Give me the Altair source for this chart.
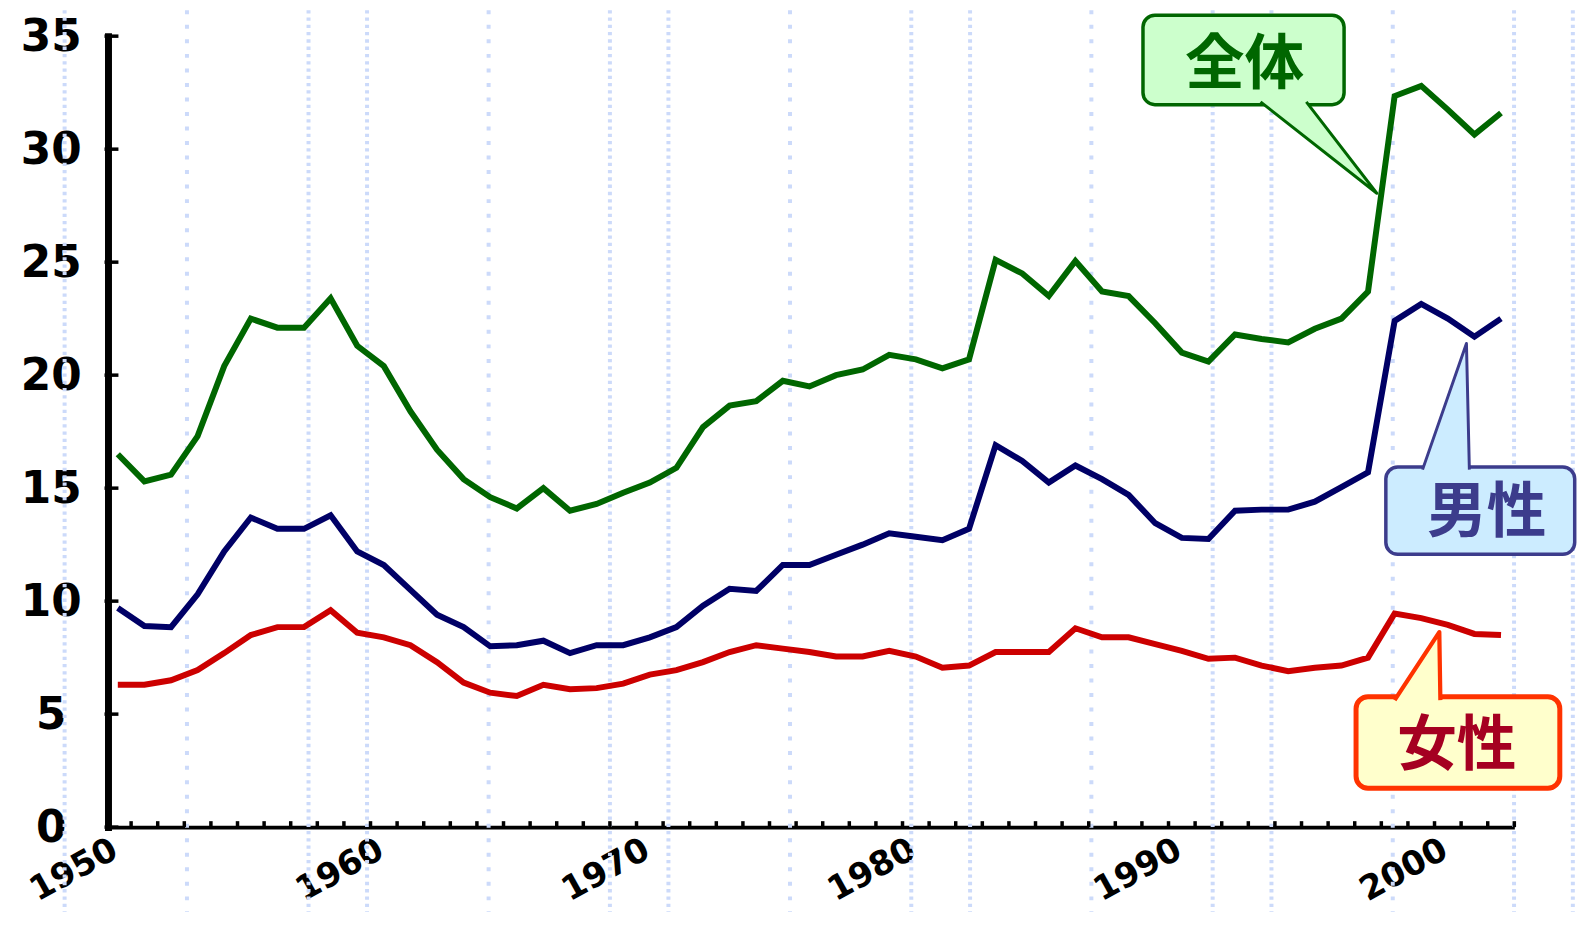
import altair as alt
import pandas as pd

# ---------------- data ----------------
years = list(range(1950, 2003))
total = [16.5, 15.3, 15.6, 17.3, 20.4, 22.5, 22.1, 22.1, 23.4, 21.3,
         20.4, 18.4, 16.7, 15.4, 14.6, 14.1, 15.0, 14.0, 14.3, 14.8,
         15.25, 15.9, 17.7, 18.65, 18.85, 19.75, 19.5, 20.0, 20.25, 20.9,
         20.7, 20.3, 20.7, 25.1, 24.5, 23.5, 25.05, 23.7, 23.5, 22.3,
         21.0, 20.6, 21.8, 21.6, 21.45, 22.05, 22.5, 23.7, 32.35, 32.8,
         31.75, 30.65, 31.6]
male = [9.7, 8.9, 8.85, 10.3, 12.2, 13.7, 13.2, 13.2, 13.8, 12.2,
        11.6, 10.5, 9.4, 8.85, 8.0, 8.05, 8.25, 7.7, 8.05, 8.05,
        8.4, 8.85, 9.8, 10.55, 10.45, 11.6, 11.6, 12.05, 12.5, 13.0,
        12.85, 12.7, 13.2, 16.9, 16.2, 15.25, 16.0, 15.4, 14.7, 13.45,
        12.8, 12.75, 14.0, 14.05, 14.05, 14.4, 15.05, 15.7, 22.4, 23.15,
        22.5, 21.7, 22.5]
female = [6.3, 6.3, 6.5, 6.95, 7.7, 8.5, 8.85, 8.85, 9.6, 8.6,
          8.4, 8.05, 7.3, 6.4, 5.95, 5.8, 6.3, 6.1, 6.15, 6.35,
          6.75, 6.95, 7.3, 7.75, 8.05, 7.9, 7.75, 7.55, 7.55, 7.8,
          7.55, 7.05, 7.15, 7.75, 7.75, 7.75, 8.8, 8.4, 8.4, 8.1,
          7.8, 7.45, 7.5, 7.15, 6.9, 7.05, 7.15, 7.5, 9.45, 9.25,
          8.95, 8.55, 8.5]

series_names = ["全体", "男性", "女性"]
series_colors = ["#006600", "#000066", "#CC0000"]
y_tick_values = [0, 5, 10, 15, 20, 25, 30, 35]
x_label_values = [1950, 1960, 1970, 1980, 1990, 2000]

# ---------------- layout / style ----------------
W, H = 1417, 795
PAD = {"left": 97, "top": 26, "right": 63, "bottom": 85}
FONT = "DejaVu Sans"
CJK = "Noto Sans CJK JP"

df = pd.DataFrame({"year": years, "全体": total, "男性": male, "女性": female})
long = df.melt(id_vars="year", var_name="series", value_name="rate")

x_scale = alt.Scale(domain=[years[0] - 0.5, years[-1] + 0.5], nice=False, zero=False)
y_scale = alt.Scale(domain=[0, 35], nice=False)

x_axis = alt.Axis(values=x_label_values, format="d", labelAngle=331,
                  labelAlign="right", labelBaseline="middle", labelPadding=20,
                  labelOffset=-3, labelFont=FONT, labelFontSize=34,
                  labelFontWeight="bold", labelColor="black", ticks=False,
                  grid=False, domain=True, domainColor="black", domainWidth=4,
                  title=None, labelFlush=False, labelOverlap=False)
y_axis = alt.Axis(values=y_tick_values, labelAlign="center", labelBaseline="middle",
                  labelPadding=57.5, labelOffset=1, offset=-3.5, labelFont=FONT,
                  labelFontSize=44, labelFontWeight="bold", labelColor="black",
                  ticks=False, grid=False, domain=True, domainColor="black",
                  domainWidth=7, domainCap="square", title=None,
                  labelFlush=False, labelOverlap=False)


def X(field):
    return alt.X(field, scale=x_scale, axis=x_axis, title=None)


def Y(field):
    return alt.Y(field, scale=y_scale, axis=y_axis, title=None)


# decorative dotted background guides (slide background), in year units
bg_dense = [1948.00, 1957.17, 1959.37, 1968.50, 1970.70, 1979.83, 1982.04,
            1991.16, 1993.37, 2002.49, 2004.70]
bg_sparse = [1952.60, 1963.94, 1975.27, 1986.60, 1997.93]


def bg_layer(vals, dash):
    return alt.Chart(pd.DataFrame({"gx": vals})).mark_rule(
        color="#CCDAFA", strokeWidth=4, strokeDash=dash
    ).encode(
        x=X("gx:Q"),
        y=alt.value(-PAD["top"]),
        y2=alt.value(H + PAD["bottom"]),
    )


bg1 = bg_layer(bg_dense, [3.3, 4])
bg2 = bg_layer(bg_sparse, [4, 10.6])

lines = alt.Chart(long).mark_line(strokeWidth=6).encode(
    x=X("year:Q"),
    y=Y("rate:Q"),
    color=alt.Color("series:N", scale=alt.Scale(domain=series_names, range=series_colors), legend=None),
    detail="series:N",
)

yticks = alt.Chart(pd.DataFrame({"v": y_tick_values})).mark_rule(
    color="black", strokeWidth=3.5
).encode(
    y=Y("v:Q"),
    x=alt.value(0),
    x2=alt.value(14),
)

xticks = alt.Chart(pd.DataFrame({"b": [y + 0.5 for y in years]})).mark_rule(
    color="black", strokeWidth=3.5
).encode(
    x=X("b:Q"),
    y=alt.value(H),
    y2=alt.value(H - 6),
)

# ---------------- callout bubbles ----------------
callouts = [
    dict(label="全体", box=(1988.54, 1996.10, 35.93, 31.97),
         tail=((1992.96, 32.09), (1994.68, 32.09), (1997.33, 28.05)),
         fill="#CCFFCC", stroke="#006600", tcolor="#006600", tpos=(1992.36, 33.69), sw=3.5),
    dict(label="男性", box=(1997.67, 2004.77, 15.94, 12.07),
         tail=((1999.05, 15.82), (2000.81, 15.82), (2000.70, 21.40)),
         fill="#CCECFF", stroke="#3C3C8C", tcolor="#3C3C8C", tpos=(2001.46, 13.87), sw=3.5),
    dict(label="女性", box=(1996.55, 2004.21, 5.77, 1.72),
         tail=((1998.00, 5.62), (1999.72, 5.62), (1999.68, 8.63)),
         fill="#FFFFCC", stroke="#FF3300", tcolor="#A50021", tpos=(2000.34, 3.54), sw=5),
]

box_df = pd.DataFrame({
    "x1": [c["box"][0] for c in callouts],
    "x2": [c["box"][1] for c in callouts],
    "y1": [c["box"][2] for c in callouts],
    "y2": [c["box"][3] for c in callouts],
    "fill": [c["fill"] for c in callouts],
    "stroke": [c["stroke"] for c in callouts],
    "sw": [c["sw"] for c in callouts],
})
boxes = alt.Chart(box_df).mark_rect(cornerRadius=12).encode(
    x=X("x1:Q"), x2="x2:Q",
    y=Y("y1:Q"), y2="y2:Q",
    fill=alt.Fill("fill:N", scale=None),
    stroke=alt.Stroke("stroke:N", scale=None),
    strokeWidth=alt.StrokeWidth("sw:Q", scale=None),
)

tail_layers = []
for c in callouts:
    A, B, C = c["tail"]
    p0, p1, p2 = sorted([A, B, C], key=lambda p: p[0])
    t = (p1[0] - p0[0]) / (p2[0] - p0[0])
    yo = p0[1] + t * (p2[1] - p0[1])
    area_df = pd.DataFrame({"tx": [p0[0], p1[0], p2[0]],
                            "ty": [p0[1], p1[1], p2[1]],
                            "ty2": [p0[1], yo, p2[1]]})
    tail_layers.append(alt.Chart(area_df).mark_area(color=c["fill"], opacity=1).encode(
        x=X("tx:Q"),
        y=Y("ty:Q"),
        y2="ty2:Q",
    ))
    edge_df = pd.DataFrame({"ex": [A[0], C[0], B[0]], "ey": [A[1], C[1], B[1]], "o": [0, 1, 2]})
    tail_layers.append(alt.Chart(edge_df).mark_line(
        color=c["stroke"], strokeWidth=c["sw"] * 0.85, strokeJoin="round"
    ).encode(
        x=X("ex:Q"),
        y=Y("ey:Q"),
        order="o:Q",
    ))

text_df = pd.DataFrame({
    "label": [c["label"] for c in callouts],
    "lx": [c["tpos"][0] for c in callouts],
    "ly": [c["tpos"][1] for c in callouts],
    "tc": [c["tcolor"] for c in callouts],
})
texts = alt.Chart(text_df).mark_text(
    font=CJK, fontSize=60, fontWeight="bold", align="center", baseline="middle"
).encode(
    x=X("lx:Q"),
    y=Y("ly:Q"),
    text="label:N",
    color=alt.Color("tc:N", scale=None),
)

chart = alt.layer(
    bg1, bg2, lines, yticks, xticks, boxes, *tail_layers, texts
).properties(
    width=W, height=H,
    autosize=alt.AutoSizeParams(type="none"),
    padding=PAD,
).configure(background="white").configure_view(stroke=None)

chart.save("out.html", embed_options={"renderer": "svg", "actions": False})
